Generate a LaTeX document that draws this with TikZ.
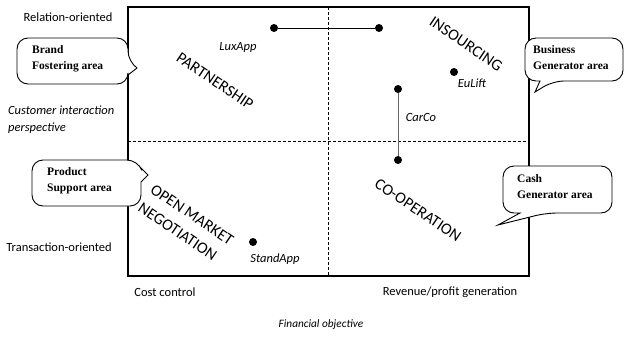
\documentclass[tikz,border=0pt]{standalone}
\usepackage{fontspec}
\setmainfont{Liberation Serif}
\setsansfont{Carlito}
\begin{document}
\begin{tikzpicture}[x=1pt,y=-1pt,
  axislabel/.style={font=\sffamily\fontsize{12.5}{15}\selectfont, inner sep=0pt},
  firmlabel/.style={font=\sffamily\fontsize{12.5}{15}\selectfont\itshape, inner sep=0pt},
  quadlabel/.style={font=\sffamily\fontsize{16}{22}\selectfont, inner sep=0pt, rotate=-34},
  dot/.style={circle, fill=black, inner sep=0pt, minimum size=8pt},
  calloutbox/.style={draw=black, line width=0.9pt, fill=white},
  callouttext/.style={font=\rmfamily\bfseries\fontsize{11.5}{16}\selectfont, align=left, anchor=north west, inner sep=0pt},
  frame/.style={line width=1.8pt},
  divider/.style={line width=0.6pt, dash pattern=on 3pt off 2pt}
]
\useasboundingbox (0,0) rectangle (626,338);

% quadrant frame
\coordinate (tl) at (128,7);
\coordinate (br) at (529,276);
\draw[divider] (328,7) -- (328,276);
\draw[divider] (128,141) -- (529,141);
\draw[frame] (tl) rectangle (br);

% axis labels
\node[axislabel] (rel) at (68,17) {Relation-oriented};
\node[axislabel, anchor=east] (trans) at (112,247) {Transaction-oriented};
\node[axislabel, font=\sffamily\fontsize{12.5}{16.5}\selectfont\itshape, align=left, anchor=north west] (cip) at (8,106) {Customer interaction\\perspective};
\node[axislabel] (cost) at (165,292) {Cost control};
\node[axislabel] (rev) at (450,292) {Revenue/profit generation};
\node[axislabel, font=\sffamily\fontsize{11.3}{14}\selectfont\itshape] (fin) at (321,325) {Financial objective};

% quadrant labels
\node[quadlabel] (partner) at (215,81) {PARTNERSHIP};
\node[quadlabel] (insourcing) at (466,44) {INSOURCING};
\node[quadlabel] (coop) at (418,210) {CO-OPERATION};
\node[quadlabel, align=left, font=\sffamily\fontsize{16}{22}\selectfont] (omn) at (186,224) {OPEN MARKET\\NEGOTIATION};

% firms
\node[dot] (lux1) at (274,28) {};
\node[dot] (lux2) at (379,28) {};
\draw[line width=0.8pt] (lux1) -- (lux2);
\node[firmlabel] (luxl) at (238,47) {LuxApp};

\node[dot] (eu) at (454,72) {};
\node[firmlabel] (eul) at (472,83) {EuLift};

\node[dot] (car1) at (398,89) {};
\node[dot] (car2) at (398,160) {};
\draw[line width=0.8pt, black!60] (car1) -- (car2);
\node[firmlabel] (carl) at (421,117) {CarCo};

\node[dot] (stand) at (253,242) {};
\node[firmlabel] (standl) at (275,259) {StandApp};

% callouts
\draw[calloutbox, rounded corners=11pt] (17,38) -- (128,38) -- (128,62) [sharp corners] -- (137,68) -- (128,75) [rounded corners=11pt] -- (128,84) -- (17,84) -- cycle;
\node[callouttext] (brand) at (32,45) {Brand\\Fostering area};

\draw[calloutbox, rounded corners=11pt] (525,38) -- (623,38) -- (623,81) -- (553,81) [sharp corners] -- (535,92) -- (540,81) [rounded corners=11pt] -- (525,81) -- cycle;
\node[callouttext] (business) at (533,45) {Business\\Generator area};

\draw[calloutbox, rounded corners=11pt] (32,160) -- (138,160) [sharp corners] -- (141,168) -- (148,175) -- (141,182) [rounded corners=11pt] -- (141,206) -- (32,206) -- cycle;
\node[callouttext] (product) at (47,167) {Product\\Support area};

\draw[calloutbox, rounded corners=11pt] (503,166) -- (612,166) -- (612,213) -- (546,213) [sharp corners] -- (498,225) -- (520,213) [rounded corners=11pt] -- (503,213) -- cycle;
\node[callouttext] (cash) at (517,174) {Cash\\Generator area};
\end{tikzpicture}
\end{document}
